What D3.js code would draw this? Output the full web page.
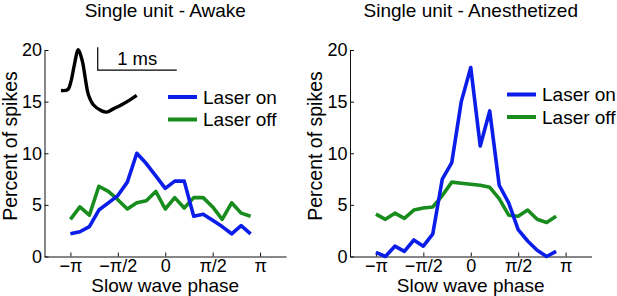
<!DOCTYPE html>
<html>
<head>
<meta charset="utf-8">
<script src="https://cdn.jsdelivr.net/npm/d3@7"></script>
<style>
  body { margin: 0; background: #fff; }
  svg { display: block; font-family: "Liberation Sans", Arial, Helvetica, sans-serif; }
</style>
</head>
<body>
<div id="chart"></div>
<script>
// phase bin centres, in units of pi
const binPhase = [-1, -0.9, -0.8, -0.7, -0.6, -0.5, -0.4, -0.3, -0.2, -0.1,
                  0, 0.1, 0.2, 0.3, 0.4, 0.5, 0.6, 0.7, 0.8, 0.9];
const phaseTicks = [-1, -0.5, 0, 0.5, 1];
const phaseTickLabels = ["\u2212\u03c0", "\u2212\u03c0/2", "0", "\u03c0/2", "\u03c0"];
const percentTicks = [0, 5, 10, 15, 20];

const awakeOn  = [2.2, 2.4, 2.9, 4.5, 5.2, 5.9, 7.2, 10.0, 9.0, 7.8, 6.6, 7.3, 7.3, 3.9, 4.1, 3.5, 2.9, 2.2, 3.0, 2.2];
const awakeOff = [3.6, 4.8, 4.0, 6.8, 6.3, 5.5, 4.6, 5.2, 5.4, 6.3, 4.6, 5.7, 4.7, 5.7, 5.7, 4.8, 3.6, 5.2, 4.2, 3.9];
const anesOn   = [0.4, 0.0, 1.0, 0.5, 1.6, 1.0, 2.2, 7.5, 9.1, 15.0, 18.3, 10.7, 14.1, 6.9, 5.2, 2.6, 1.5, 0.6, 0.0, 0.5];
const anesOff  = [4.1, 3.6, 4.2, 3.7, 4.5, 4.7, 4.8, 5.9, 7.2, 7.1, 7.0, 6.9, 6.7, 5.6, 4.0, 3.9, 4.5, 3.6, 3.3, 3.9];

const seriesNames = ["Laser on", "Laser off"];

// spike waveform (ms, normalised amplitude)
const waveT = [0, 0.085, 0.127, 0.169, 0.219, 0.270, 0.313, 0.346, 0.409, 0.515, 0.578, 0.662, 0.768, 0.873, 0.958];
const waveA = [0, 0.02, 0.23, 0.63, 1.0, 0.72, 0.23, -0.10, -0.35, -0.50, -0.53, -0.45, -0.35, -0.23, -0.12];

const BLUE = "#0b1de8";
const GREEN = "#198c1e";
const FONT = 19;

const svg = d3.select("#chart")
  .append("svg")
  .attr("width", 617)
  .attr("height", 296);

const y = d3.scaleLinear().domain([0, 20]).range([256.5, 50]);

function panel(svg, { left, title, on, off, legend }) {
  const x = d3.scaleLinear().domain([-4, 4]).range([left, left + 241.5]);
  const g = svg.append("g");

  g.append("text")
    .attr("x", x(0)).attr("y", 16.5)
    .attr("text-anchor", "middle")
    .attr("font-size", FONT)
    .text(title);

  const xAxis = g.append("g")
    .attr("transform", `translate(0,${y(0)})`)
    .call(d3.axisBottom(x)
      .tickValues(phaseTicks.map(d => d * Math.PI))
      .tickFormat((d, i) => phaseTickLabels[i])
      .tickSizeInner(-4).tickSizeOuter(0).tickPadding(2.5));

  const yAxis = g.append("g")
    .attr("transform", `translate(${x(-4)},0)`)
    .call(d3.axisLeft(y)
      .tickValues(percentTicks)
      .tickSizeInner(-4).tickSizeOuter(0).tickPadding(2.5));

  [xAxis, yAxis].forEach(a => {
    a.attr("font-family", null).attr("font-size", 18);
    a.selectAll("path, line").attr("stroke", "#111");
    a.selectAll("text").attr("fill", "#000");
  });

  g.append("text")
    .attr("x", x(0)).attr("y", 292)
    .attr("text-anchor", "middle")
    .attr("font-size", FONT)
    .text("Slow wave phase");

  g.append("text")
    .attr("transform", `translate(${x(-4) - 28},146) rotate(-90)`)
    .attr("text-anchor", "middle")
    .attr("font-size", 19.5)
    .text("Percent of spikes");

  const line = d3.line((d, i) => x(binPhase[i] * Math.PI), d => y(d));
  [[off, GREEN], [on, BLUE]].forEach(([vals, c]) => {
    g.append("path")
      .datum(vals)
      .attr("d", line)
      .attr("fill", "none")
      .attr("stroke", c)
      .attr("stroke-width", 3.6)
      .attr("stroke-linejoin", "round");
  });

  const lg = g.append("g").attr("transform", `translate(${legend[0]},${legend[1]})`);
  [BLUE, GREEN].forEach((c, i) => {
    lg.append("line")
      .attr("x1", 0).attr("x2", 29)
      .attr("y1", i * 22.5).attr("y2", i * 22.5)
      .attr("stroke", c).attr("stroke-width", 4);
    lg.append("text")
      .attr("x", 35).attr("y", i * 22.5)
      .attr("dy", "0.35em")
      .attr("font-size", FONT)
      .text(seriesNames[i]);
  });
}

panel(svg, { left: 44.5, title: "Single unit - Awake", on: awakeOn, off: awakeOff, legend: [168, 97] });
panel(svg, { left: 350, title: "Single unit - Anesthetized", on: anesOn, off: anesOff, legend: [507, 94.5] });

// waveform inset with scale bar
const wx = d3.scaleLinear().domain([0, 1]).range([61, 140]);
const wy = d3.scaleLinear().domain([0, 1]).range([90.5, 49.7]);
const bar = { t0: 0.465, a0: 0.5, amp: 0.56 };

svg.append("path")
  .datum(waveT.map((t, i) => [t, waveA[i]]))
  .attr("d", d3.line(d => wx(d[0]), d => wy(d[1])).curve(d3.curveCatmullRom))
  .attr("fill", "none")
  .attr("stroke", "#000")
  .attr("stroke-width", 3.4)
  .attr("stroke-linejoin", "round");

svg.append("path")
  .attr("d", d3.line()([
    [wx(bar.t0), wy(bar.a0 + bar.amp)],
    [wx(bar.t0), wy(bar.a0)],
    [wx(bar.t0 + 1), wy(bar.a0)]
  ]))
  .attr("fill", "none")
  .attr("stroke", "#000")
  .attr("stroke-width", 1.2);

svg.append("text")
  .attr("x", wx(bar.t0 + 0.5)).attr("y", wy(bar.a0) - 5.5)
  .attr("text-anchor", "middle")
  .attr("font-size", 18.5)
  .text("1 ms");
</script>
</body>
</html>
